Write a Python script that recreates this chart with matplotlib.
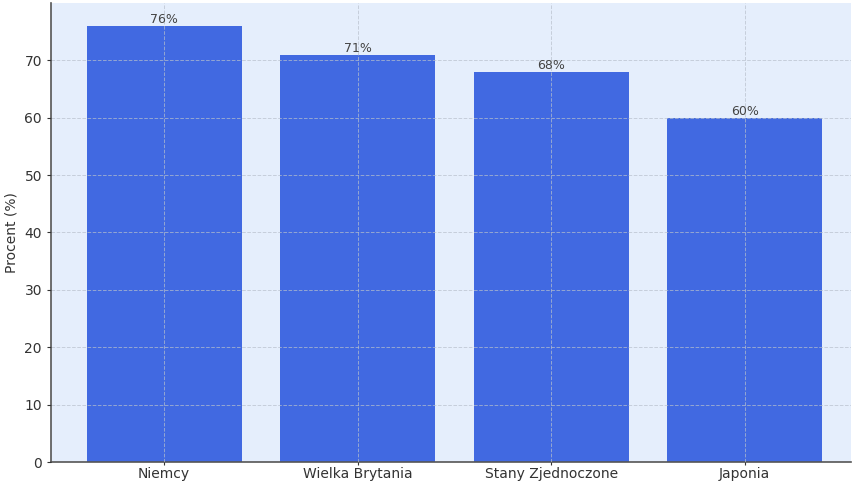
import matplotlib
matplotlib.use("Agg")
import matplotlib.pyplot as plt

# share of respondents per country
kraje = ["Niemcy", "Wielka Brytania", "Stany Zjednoczone", "Japonia"]
procent = [76, 71, 68, 60]
yticks = [0, 10, 20, 30, 40, 50, 60, 70]

W, H = 853, 483
fig = plt.figure(figsize=(W / 100, H / 100), dpi=100)
ax = fig.add_axes([51 / W, 21 / H, (851 - 51) / W, (462 - 3) / H])
ax.set_facecolor("#e5eefc")

bars = ax.bar(kraje, procent, width=0.8, color="#4169e1", zorder=2)
for b, v in zip(bars, procent):
    ax.text(b.get_x() + b.get_width() / 2, v, f"{v}%", ha="center", va="bottom",
            fontsize=9, color="#444444", zorder=4)

ax.set_xlim(-0.585, 3.55)
ax.set_ylim(0, 80)
ax.set_yticks(yticks)
ax.set_ylabel("Procent (%)", fontsize=10, color="#333333")
ax.tick_params(labelsize=10, colors="#333333", length=3)
ax.tick_params(axis="x", length=2.5, pad=1)

ax.grid(True, linestyle="--", linewidth=0.7, color="#b8c0cc", alpha=0.7, zorder=3)
ax.set_axisbelow(False)
for s in ["top", "right"]:
    ax.spines[s].set_visible(False)
for s in ["left", "bottom"]:
    ax.spines[s].set_color("#555555")
    ax.spines[s].set_linewidth(1.2)

fig.savefig("out.png", dpi=100)
